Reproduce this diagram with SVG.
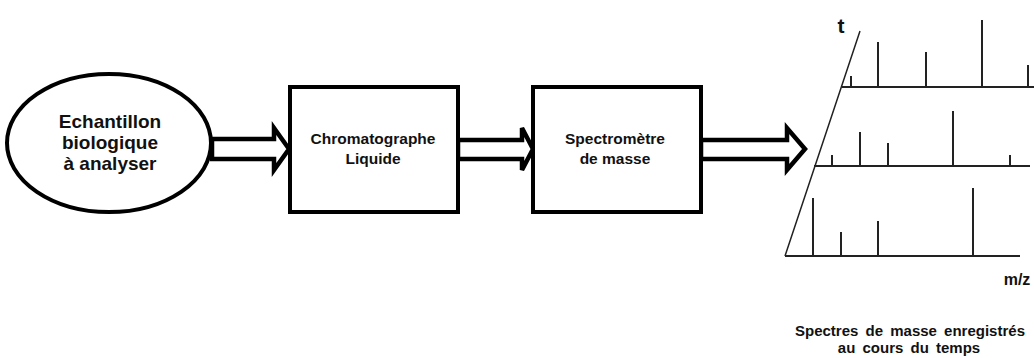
<svg xmlns="http://www.w3.org/2000/svg" width="1034" height="358" viewBox="0 0 1034 358">
<style>
.lbl{font-family:"Liberation Sans",Arial,sans-serif;font-weight:bold;fill:#111;text-anchor:middle}
.shape{fill:#fff;stroke:#000;stroke-width:4}
.arrow{fill:#fff;stroke:#000;stroke-width:4.5;stroke-linejoin:miter}
.ax{stroke:#222;stroke-width:2;fill:none}
.pk{stroke:#222;stroke-width:2}
</style>
<rect width="1034" height="358" fill="#fff"/>
<g id="connectors">
<polygon class="arrow" points="212,139 274,139 274,128 289,149 274,170 274,159 212,159"/>
<polygon class="arrow" points="458,140 522,140 522,128 533,149 522,170 522,159 458,159"/>
<polygon class="arrow" points="701,140 787,140 787,128 805,149 787,170 787,159 701,159"/>
</g>
<g id="echantillon">
<ellipse class="shape" cx="109" cy="143" rx="102" ry="69"/>
<text class="lbl" x="110" y="128" font-size="19">Echantillon</text>
<text class="lbl" x="110" y="149" font-size="19">biologique</text>
<text class="lbl" x="110" y="170" font-size="19">à analyser</text>
</g>
<g id="chromatographe">
<rect class="shape" x="290" y="87" width="168" height="125"/>
<text class="lbl" x="373" y="144" font-size="15.5">Chromatographe</text>
<text class="lbl" x="373" y="164" font-size="15.5">Liquide</text>
</g>
<g id="spectrometre">
<rect class="shape" x="533" y="87" width="168" height="125"/>
<text class="lbl" x="615" y="144" font-size="15.5">Spectromètre</text>
<text class="lbl" x="615" y="164" font-size="15.5">de masse</text>
</g>
<g id="spectres">
<line x1="785" y1="256" x2="860" y2="31" stroke="#222" stroke-width="1.5"/>
<line class="ax" x1="842" y1="87" x2="1034" y2="87"/>
<line class="ax" x1="814" y1="166" x2="1030" y2="166"/>
<line class="ax" x1="785" y1="256" x2="1020" y2="256"/>
<g class="pk">
<line x1="851" y1="87" x2="851" y2="76"/>
<line x1="878" y1="87" x2="878" y2="42"/>
<line x1="926" y1="87" x2="926" y2="52"/>
<line x1="982" y1="87" x2="982" y2="20"/>
<line x1="1028" y1="87" x2="1028" y2="65"/>
<line x1="832" y1="166" x2="832" y2="155"/>
<line x1="860" y1="166" x2="860" y2="132"/>
<line x1="888" y1="166" x2="888" y2="143"/>
<line x1="953" y1="166" x2="953" y2="111"/>
<line x1="1010" y1="166" x2="1010" y2="155"/>
<line x1="813" y1="256" x2="813" y2="198"/>
<line x1="841" y1="256" x2="841" y2="232"/>
<line x1="878" y1="256" x2="878" y2="221"/>
<line x1="973" y1="256" x2="973" y2="188"/>
</g>
<text class="lbl" x="841" y="33" font-size="21">t</text>
<text class="lbl" x="1017" y="285" font-size="16">m/z</text>
<text class="lbl" x="910" y="336" font-size="15" word-spacing="3">Spectres de masse enregistrés</text>
<text class="lbl" x="909" y="353" font-size="15" word-spacing="3">au cours du temps</text>
</g>
</svg>
